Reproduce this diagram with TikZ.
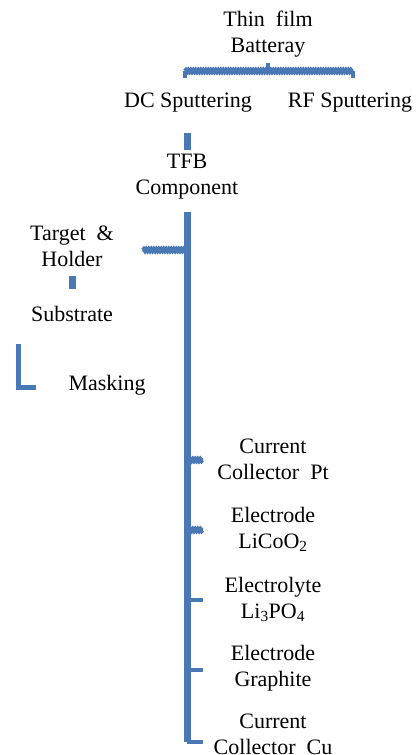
\documentclass[tikz,border=0pt]{standalone}
\usepackage{fontspec}
\setmainfont{Liberation Serif}
\usepackage{xcolor}
\usepackage{tikz}
\usetikzlibrary{decorations.pathmorphing}
\definecolor{barblue}{HTML}{4A78B4}
\newcommand{\widegap}{\spaceskip=0.5em plus 0.1em\relax}
\tikzset{bar/.style={barblue, line width=7pt},
    stub/.style={barblue, line width=4.5pt},
    wavy/.style={stub, decorate, decoration={snake, amplitude=0.8pt, segment length=2.5pt}},
    label/.style={align=center, inner sep=0pt, font=\fontsize{22}{26}\selectfont},
    widelabel/.style={label, execute at begin node=\widegap}}

\begin{document}
\begin{tikzpicture}[x=1pt, y=-1pt]
    \useasboundingbox (0,0) rectangle (416,755);

    \node[widelabel] (thin) at (268,34) {Thin film\\Batteray};
    \node[label] (dc) at (188,103) {DC Sputtering};
    \node[label] (rf) at (350,103) {RF Sputtering};
    \node[label] (tfb) at (187,177) {TFB\\Component};
    \node[widelabel] (target) at (72,246) {Target \&\\Holder};
    \node[label] (substrate) at (72,314) {Substrate};
    \node[label] (masking) at (107,385) {Masking};
    \node[widelabel] (pt) at (273,459) {Current\\Collector Pt};
    \node[label] (licoo) at (273,529) {Electrode\\LiCoO\textsubscript{2}};
    \node[label] (lipo) at (273,599) {Electrolyte\\Li\textsubscript{3}PO\textsubscript{4}};
    \node[label] (graphite) at (273,668) {Electrode\\Graphite};
    \node[widelabel] (cu) at (273,734) {Current\\Collector Cu};

    \coordinate (T1) at (268,63);
    \coordinate (T2) at (268,71);
    \coordinate (T3) at (185,71);
    \coordinate (T4) at (185,78);
    \coordinate (T5) at (353,71);
    \coordinate (T6) at (353,78);
    \coordinate (D1) at (187,133);
    \coordinate (D2) at (187,150);
    \coordinate (M1) at (187,212);
    \coordinate (M2) at (187,742);
    \coordinate (M3) at (203,742);
    \coordinate (H1) at (143,250);
    \coordinate (H2) at (187,250);
    \coordinate (S1) at (72,276);
    \coordinate (S2) at (72,289);
    \coordinate (L1) at (18,344);
    \coordinate (L2) at (18,387);
    \coordinate (L3) at (36,387);
    \coordinate (P1) at (187,460);
    \coordinate (P2) at (203,460);
    \coordinate (C1) at (187,530);
    \coordinate (C2) at (203,530);
    \coordinate (E1) at (187,600);
    \coordinate (E2) at (203,600);
    \coordinate (G1) at (187,670);
    \coordinate (G2) at (203,670);

    \draw[stub] (T1) -- (T2);
    \draw[wavy] (T3) -- (T5);
    \draw[stub] (T3) -- (T4);
    \draw[stub] (T5) -- (T6);
    \draw[bar] (D1) -- (D2);
    \draw[bar] (M1) -- (M2);
    \draw[stub] (M2) -- (M3);
    \draw[wavy] (H1) -- (H2);
    \draw[bar] (S1) -- (S2);
    \draw[stub, line width=5pt] (L1) -- (L2) -- (L3);
    \draw[wavy] (P1) -- (P2);
    \draw[wavy] (C1) -- (C2);
    \draw[stub] (E1) -- (E2);
    \draw[stub] (G1) -- (G2);
\end{tikzpicture}
\end{document}
